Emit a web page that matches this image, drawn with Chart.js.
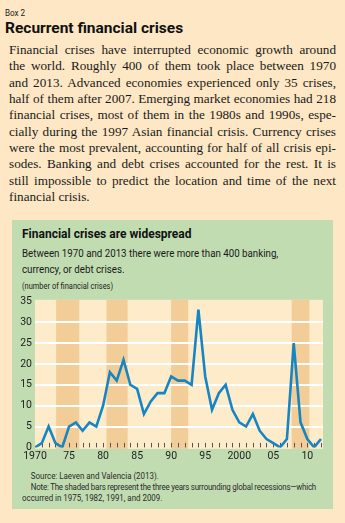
<!DOCTYPE html>
<html>
<head>
<meta charset="utf-8">
<script src="https://cdn.jsdelivr.net/npm/chart.js@4"></script>
<style>
  html, body { margin: 0; padding: 0; }
  body { width: 345px; height: 523px; background: #fde7c4; position: relative; overflow: hidden; font-family: Roboto, sans-serif; }
  .t { position: absolute; white-space: nowrap; transform-origin: 0 50%; }
  #box { left: 5px; top: 7px; font-size: 9.5px; color: #222; transform: scaleX(0.85); }
  #head { left: 5px; top: 19px; font-size: 15.5px; font-weight: bold; color: #111; }
  #body { position: absolute; left: 9px; top: 42px; width: 327px; font-family: "Liberation Serif", serif; font-size: 13.2px; line-height: 16.35px; color: #1a1a1a; }
  #body div { text-align: justify; text-align-last: justify; white-space: nowrap; }
  #body div.last { text-align-last: left; }
  #panel { position: absolute; left: 12px; top: 220px; width: 321px; height: 289px; background: #c1dcb1; }
  #ctitle { left: 22px; top: 227px; font-size: 12px; font-weight: bold; color: #111; }
  #csub { left: 22px; top: 246px; font-size: 11.2px; line-height: 16px; color: #1a1a1a; transform: scaleX(0.87); transform-origin: 0 0; }
  #unit { left: 22px; top: 281px; font-size: 9px; color: #222; transform: scaleX(0.83); }
  #wrap { position: absolute; left: 14px; top: 292px; width: 316px; height: 174px; }
  #wrap canvas { display: block; }
  #notes { left: 22px; top: 471px; font-size: 9px; line-height: 10.8px; color: #2a2a2a; transform: scaleX(0.88); transform-origin: 0 0; }
  #notes .tight { letter-spacing: -0.25px; }
</style>
</head>
<body>
<div id="box" class="t">Box 2</div>
<div id="head" class="t">Recurrent financial crises</div>
<div id="body">
  <div>Financial crises have interrupted economic growth around</div>
  <div>the world. Roughly 400 of them took place between 1970</div>
  <div>and 2013. Advanced economies experienced only 35 crises,</div>
  <div>half of them after 2007. Emerging market economies had 218</div>
  <div>financial crises, most of them in the 1980s and 1990s, espe-</div>
  <div>cially during the 1997 Asian financial crisis. Currency crises</div>
  <div>were the most prevalent, accounting for half of all crisis epi-</div>
  <div>sodes. Banking and debt crises accounted for the rest. It is</div>
  <div>still impossible to predict the location and time of the next</div>
  <div class="last">financial crisis.</div>
</div>
<div id="panel"></div>
<div id="ctitle" class="t">Financial crises are widespread</div>
<div id="csub" class="t">Between 1970 and 2013 there were more than 400 banking,<br>currency, or debt crises.</div>
<div id="unit" class="t">(number of financial crises)</div>
<div id="wrap"><canvas id="crisisChart" width="316" height="174"></canvas></div>
<div id="notes" class="t">
  <div style="padding-left:10px">Source: Laeven and Valencia (2013).</div>
  <div class="tight" style="padding-left:10px">Note: The shaded bars represent the three years surrounding global recessions—which</div>
  <div>occurred in 1975, 1982, 1991, and 2009.</div>
</div>

<script>
// number of financial crises per year
const years = [
    1970, 1971, 1972, 1973, 1974, 1975, 1976, 1977, 1978, 1979,
    1980, 1981, 1982, 1983, 1984, 1985, 1986, 1987, 1988, 1989,
    1990, 1991, 1992, 1993, 1994, 1995, 1996, 1997, 1998, 1999,
    2000, 2001, 2002, 2003, 2004, 2005, 2006, 2007, 2008, 2009,
    2010, 2011, 2012
];
const crises = [
    0, 1, 5, 1, 0, 5, 6, 4, 6, 5,
    10, 18, 16, 21, 15, 14, 8, 11, 13, 13,
    17, 16, 16, 15, 33, 17, 9, 13, 15, 9,
    6, 5, 8, 4, 2, 1, 0, 2, 25, 6,
    2, 0, 2
];
// shaded bars around the global recessions of 1975, 1982, 1991 and 2009 (start, end)
const bandStarts = [1973.1, 1980.5, 1990.0, 2007.7];
const bandEnds = [1976.5, 1983.6, 1992.5, 2010.3];
const yTicks = [0, 5, 10, 15, 20, 25, 30, 35];
const xLabelYears = [1970, 1975, 1980, 1985, 1990, 1995, 2000, 2005, 2010];

const COLORS = {
    plotBg: '#fdebc9',
    band: '#f2cd98',
    line: '#1585c4',
    text: '#1e1e1e',
    tick: '#555'
};

const backdropPlugin = {
    id: 'backdrop',
    beforeDraw(chart) {
        const { ctx, chartArea, scales } = chart;
        const x = scales.x;
        const top = chartArea.top - 1.5;
        const h = chartArea.bottom - top + 1.5;
        ctx.save();
        ctx.fillStyle = COLORS.plotBg;
        ctx.fillRect(chartArea.left, top, chartArea.right - chartArea.left, h);
        ctx.fillStyle = COLORS.band;
        bandStarts.forEach((s, i) => {
            const x0 = x.getPixelForValue(s);
            const x1 = x.getPixelForValue(bandEnds[i]);
            ctx.fillRect(x0, top, x1 - x0, h);
        });
        ctx.restore();
    },
    beforeDatasetsDraw(chart) {
        // short year ticks sitting on the zero line
        const { ctx, scales } = chart;
        const y0 = scales.y.getPixelForValue(0);
        ctx.save();
        ctx.strokeStyle = COLORS.tick;
        ctx.lineWidth = 1;
        years.forEach(yr => {
            if (yr === years[0]) return;
            const px = Math.round(scales.x.getPixelForValue(yr)) + 0.5;
            ctx.beginPath();
            ctx.moveTo(px, y0);
            ctx.lineTo(px, y0 - 4.5);
            ctx.stroke();
        });
        ctx.restore();
    }
};

const tickFont = { family: 'Roboto, sans-serif', size: 10.5 };

new Chart(document.getElementById('crisisChart').getContext('2d'), {
    type: 'line',
    data: {
        datasets: [{
            data: years.map((yr, i) => ({ x: yr, y: crises[i] })),
            borderColor: COLORS.line,
            borderWidth: 2.6,
            pointRadius: 0,
            tension: 0,
            fill: false
        }]
    },
    options: {
        responsive: false,
        animation: false,
        layout: { padding: { top: 7, right: 7, bottom: 0, left: 0 } },
        plugins: {
            legend: { display: false },
            tooltip: { enabled: false }
        },
        scales: {
            x: {
                type: 'linear',
                min: 1970,
                max: 2012.3,
                border: { display: false },
                grid: { display: false, drawTicks: false },
                afterBuildTicks: scale => {
                    scale.ticks = xLabelYears.map(v => ({ value: v }));
                },
                ticks: {
                    autoSkip: false,
                    maxRotation: 0,
                    padding: 3,
                    color: COLORS.text,
                    font: tickFont,
                    callback: v => (v === 1970 || v === 2000) ? String(v) : String(v % 100).padStart(2, '0')
                }
            },
            y: {
                min: 0,
                max: 35,
                border: { display: false },
                afterBuildTicks: scale => {
                    scale.ticks = yTicks.map(v => ({ value: v }));
                },
                afterFit: scale => { scale.width = 21; },
                grid: {
                    drawTicks: false,
                    lineWidth: 2,
                    color: c => (c.tick && c.tick.value > 0 && c.tick.value < 35) ? '#ffffff' : 'rgba(0,0,0,0)'
                },
                ticks: {
                    padding: 3,
                    color: COLORS.text,
                    font: tickFont
                }
            }
        }
    },
    plugins: [backdropPlugin]
});
</script>
</body>
</html>
